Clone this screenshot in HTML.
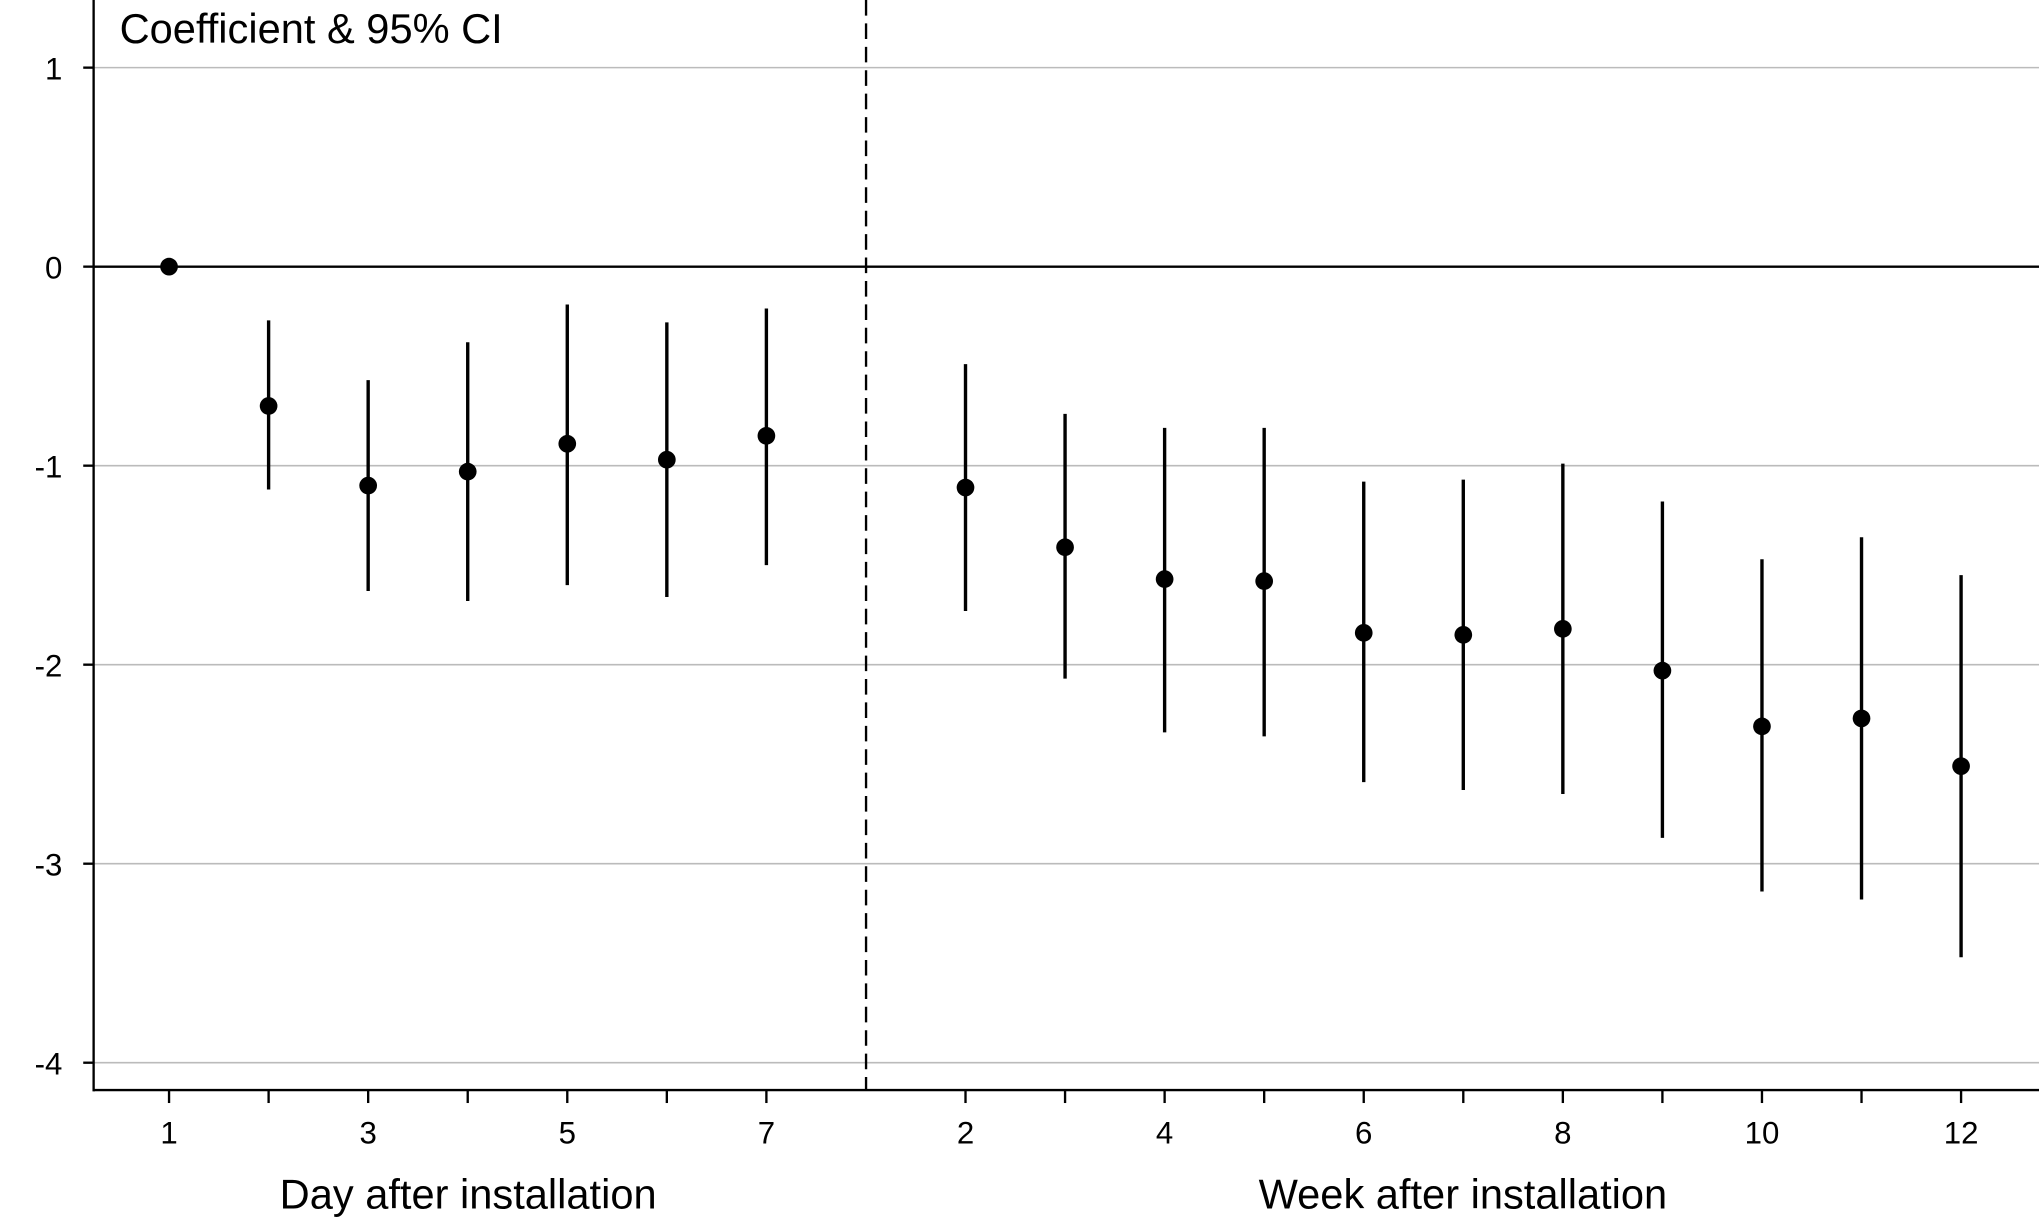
<!DOCTYPE html>
<html><head><meta charset="utf-8"><style>
html,body{margin:0;padding:0;background:#fff;}
svg{display:block;}
text{font-family:"Liberation Sans",Arial,sans-serif;fill:#000;}
</style></head><body>
<svg id="s" width="2039" height="1224" viewBox="0 0 1568 941" preserveAspectRatio="none" xmlns="http://www.w3.org/2000/svg">
<rect width="1568" height="941" fill="#fff"/>
<g id="g"></g>
<text x="92" y="33" font-size="32">Coefficient &amp; 95% CI</text>
<text x="360" y="929" font-size="32" text-anchor="middle">Day after installation</text>
<text x="1125" y="929" font-size="32" text-anchor="middle">Week after installation</text>
</svg>
<script>
var g=document.getElementById('g'),h='';
function Y(v){return 205-153*v;}
function X(i){return 130+76.56*i;}
[1,-1,-2,-3,-4].forEach(function(v){h+='<line x1="72" x2="1568" y1="'+Y(v)+'" y2="'+Y(v)+'" stroke="#bbb" stroke-width="1.2"/>';});
h+='<line x1="72" x2="1568" y1="205" y2="205" stroke="#000" stroke-width="1.8"/>';
h+='<line x1="72" x2="72" y1="0" y2="839" stroke="#000" stroke-width="1.8"/>';
h+='<line x1="72" x2="1568" y1="838" y2="838" stroke="#000" stroke-width="1.8"/>';
[1,0,-1,-2,-3,-4].forEach(function(v){var y=Y(v);h+='<line x1="64" x2="72" y1="'+y+'" y2="'+y+'" stroke="#000" stroke-width="1.8"/>';h+='<text x="48" y="'+(y+9)+'" font-size="24" text-anchor="end">'+v+'</text>';});
h+='<line x1="666" x2="666" y1="0" y2="838" stroke="#000" stroke-width="1.8" stroke-dasharray="12,6"/>';
var pos=[];for(var i=0;i<7;i++)pos.push(X(i));for(i=0;i<11;i++)pos.push(X(8+i));
var labs=['1','','3','','5','','7','2','','4','','6','','8','','10','','12'];
pos.forEach(function(x,k){h+='<line x1="'+x+'" x2="'+x+'" y1="838" y2="848" stroke="#000" stroke-width="1.8"/>';if(labs[k])h+='<text x="'+x+'" y="879" font-size="24" text-anchor="middle">'+labs[k]+'</text>';});
var d=[[0,0,0],[-0.70,-0.27,-1.12],[-1.10,-0.57,-1.63],[-1.03,-0.38,-1.68],[-0.89,-0.19,-1.60],[-0.97,-0.28,-1.66],[-0.85,-0.21,-1.50],
[-1.11,-0.49,-1.73],[-1.41,-0.74,-2.07],[-1.57,-0.81,-2.34],[-1.58,-0.81,-2.36],[-1.84,-1.08,-2.59],[-1.85,-1.07,-2.63],[-1.82,-0.99,-2.65],[-2.03,-1.18,-2.87],[-2.31,-1.47,-3.14],[-2.27,-1.36,-3.18],[-2.51,-1.55,-3.47]];
d.forEach(function(p,k){var x=pos[k];if(k>0)h+='<line x1="'+x+'" x2="'+x+'" y1="'+Y(p[1])+'" y2="'+Y(p[2])+'" stroke="#000" stroke-width="2.6"/>';h+='<circle cx="'+x+'" cy="'+Y(p[0])+'" r="6.8" fill="#000"/>';});
g.innerHTML=h;
</script>
</body></html>
